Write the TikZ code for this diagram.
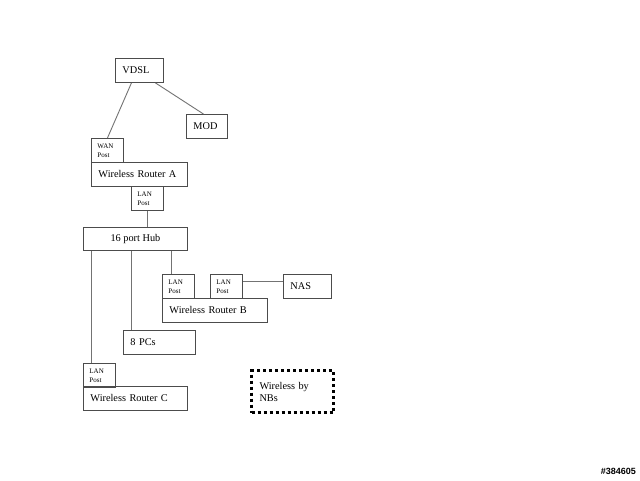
\documentclass[tikz,border=0pt]{standalone}
\usepackage{fontspec}
\setmainfont{Liberation Serif}
\newfontfamily\wmfont{Liberation Sans}
\begin{document}
\begin{tikzpicture}[x=1pt,y=-1pt,
  boxline/.style={draw=black!70, line width=0.9pt},
  box/.style={boxline, inner ysep=0pt, inner xsep=7pt, anchor=north west, align=left,
     font=\fontsize{10.3}{12}\selectfont},
  cbox/.style={boxline, inner sep=0pt, anchor=north west, align=center,
     font=\fontsize{10.3}{12}\selectfont},
  port/.style={boxline, inner ysep=0pt, inner xsep=6pt, anchor=north west, align=left,
     text width=20pt, minimum height=24pt, font=\fontsize{7}{8.8}\selectfont},
  wire/.style={draw=black!55, line width=0.9pt}]
\useasboundingbox (0,0) rectangle (640,480);
\fill[white] (0,0) rectangle (640,480);
% boxes
\node[box, text width=34pt, minimum height=24pt] (vdsl) at (115,58) {VDSL};
\node[box, text width=27pt, minimum height=24pt] (mod) at (186,114) {MOD};
\node[port] (wan) at (91,138) {WAN\\Post};
\node[box, text width=82pt, minimum height=24pt] (ra) at (91,162) {Wireless Router A};
\node[port] (lana) at (131,186) {LAN\\Post};
\node[cbox, minimum width=104pt, minimum height=23pt] (hub) at (83,227) {16 port Hub};
\node[port] (lanb1) at (162,274) {LAN\\Post};
\node[port] (lanb2) at (210,274) {LAN\\Post};
\node[box, text width=34pt, minimum height=24pt] (nas) at (283,274) {NAS};
\node[box, text width=91pt, minimum height=24pt] (rb) at (162,298) {Wireless Router B};
\node[box, text width=58pt, minimum height=24pt] (pcs) at (123,330) {8 PCs};
\node[port] (lanc) at (83,363) {LAN\\Post};
\node[box, text width=90pt, minimum height=24pt] (rc) at (83,386) {Wireless Router C};
\node[draw=black, line width=3pt, dash pattern=on 3pt off 3pt, inner ysep=0pt, inner xsep=8pt,
  anchor=north west, align=left, text width=66pt, minimum height=42pt,
  font=\fontsize{10.3}{12}\selectfont] (nb) at (250,369) {Wireless by\\NBs};
% connectors
\draw[wire] ([xshift=-8pt]vdsl.south) -- (wan.north);
\draw[wire] ([xshift=16pt]vdsl.south) -- ([xshift=-3.5pt]mod.north);
\draw[wire] (lana.south) -- (lana.south |- hub.north);
\draw[wire] ([xshift=-8pt]lanc.north) -- ([xshift=-8pt]lanc.north |- hub.south);
\draw[wire] ([xshift=8pt]pcs.north west) -- ([xshift=8pt]pcs.north west |- hub.south);
\draw[wire] ([xshift=9pt]lanb1.north west) -- ([xshift=9pt]lanb1.north west |- hub.south);
\draw[wire] ([yshift=5pt]lanb2.east) -- ([yshift=5pt]lanb2.east -| nas.west);
% watermark
\node[anchor=east, inner sep=0pt, font=\wmfont\bfseries\fontsize{9}{10}\selectfont] (wm) at (636,471) {\#384605};
\end{tikzpicture}
\end{document}
